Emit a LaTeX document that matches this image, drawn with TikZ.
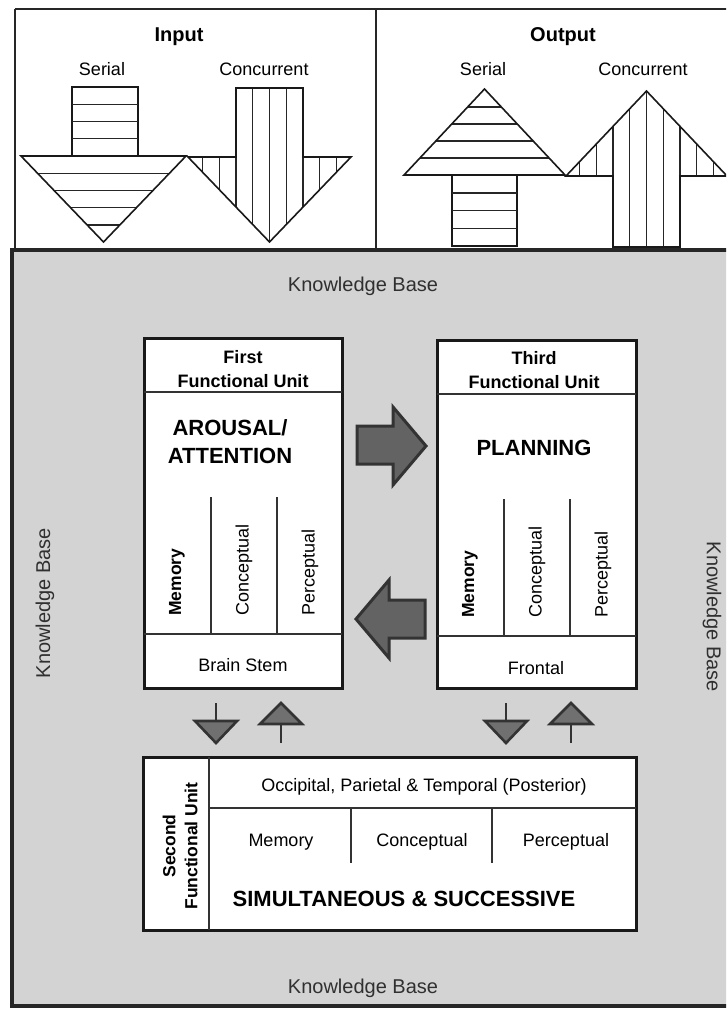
\documentclass[tikz,border=0pt]{standalone}
\usepackage{fontspec}
\setmainfont{Liberation Sans}
\usepackage{tikz}
\usetikzlibrary{positioning}

\definecolor{kbgray}{HTML}{D3D3D3}
\definecolor{kbtext}{HTML}{303030}
\definecolor{bigfill}{HTML}{636363}
\definecolor{bigline}{HTML}{333333}
\definecolor{smallfill}{HTML}{707070}

\tikzset{
  frameline/.style={draw=black!85, line width=2pt},
  unitbox/.style={draw=black!90, line width=3pt, fill=white},
  divider/.style={draw=black!80, line width=2pt},
  hatchbox/.style={draw=black!90, line width=1.6pt, line join=miter},
  hatch/.style={draw=black!85, line width=1.3pt},
  bigarrow/.style={fill=bigfill, draw=bigline, line width=3pt, line join=miter},
  smallhead/.style={fill=smallfill, draw=bigline, line width=2.6pt, line join=miter},
  smallstem/.style={draw=bigline, line width=2.6pt},
  txt/.style={inner sep=0pt, anchor=base},
  titlefont/.style={font=\bfseries\fontsize{20}{24}\selectfont},
  labfont/.style={font=\fontsize{18}{22}\selectfont},
  unitfont/.style={font=\bfseries\fontsize{18}{24}\selectfont},
  bigfont/.style={font=\bfseries\fontsize{22}{28}\selectfont},
  kbfont/.style={font=\fontsize{20}{24}\selectfont, text=kbtext, inner sep=0pt}
}

\begin{document}
\begin{tikzpicture}[x=1pt,y=-1pt]
\useasboundingbox (0,0) rectangle (726,1012);
\clip (0,0) rectangle (726,1012);

% top panel
\draw[frameline] (15,9) -- (740,9);
\draw[frameline] (15,9) -- (15,250);
\draw[frameline] (376,9) -- (376,250);

\draw (179,41) node[txt,titlefont] (input) {Input};
\draw (563,41) node[txt,titlefont] (output) {Output};
\draw (102,75) node[txt,labfont] (inserial) {Serial};
\draw (264,75) node[txt,labfont] (inconc) {Concurrent};
\draw (483,75) node[txt,labfont] (outserial) {Serial};
\draw (643,75) node[txt,labfont] (outconc) {Concurrent};

% input, serial
\draw[hatchbox] (72,87) rectangle (138,156);
\foreach \y in {104.25,121.5,138.75}
  \draw[hatch] (72,\y) -- (138,\y);
\begin{scope}
  \clip (21,156) -- (186,156) -- (103.5,242) -- cycle;
  \foreach \y in {173.25,190.5,207.75,225}
    \draw[hatch] (0,\y) -- (380,\y);
\end{scope}
\draw[hatchbox] (21,156) -- (186,156) -- (103.5,242) -- cycle;

% input, concurrent
\begin{scope}
  \clip (236,88) rectangle (303,157) (188,157) -- (351,157) -- (269.5,242) -- cycle;
  \foreach \i in {-3,...,7}
    \draw[hatch] ({236+16.75*\i},80) -- ({236+16.75*\i},250);
\end{scope}
\draw[hatchbox] (236,157) -- (236,88) -- (303,88) -- (303,157) -- (351,157)
  -- (269.5,242) -- (188,157) -- cycle;

% output, serial
\begin{scope}
  \clip (404,175) -- (565,175) -- (484.5,89) -- cycle;
  \foreach \y in {107,124,141,158}
    \draw[hatch] (380,\y) -- (740,\y);
\end{scope}
\draw[hatchbox] (404,175) -- (565,175) -- (484.5,89) -- cycle;
\draw[hatchbox] (452,175) rectangle (517,246);
\foreach \y in {193,210.75,228.5}
  \draw[hatch] (452,\y) -- (517,\y);

% output, concurrent
\begin{scope}
  \clip (613,247) rectangle (680,176) (566,176) -- (646.5,91) -- (727,176) -- cycle;
  \foreach \i in {-3,...,7}
    \draw[hatch] ({613+16.75*\i},80) -- ({613+16.75*\i},250);
\end{scope}
\draw[hatchbox] (613,247) -- (613,176) -- (566,176) -- (646.5,91) -- (727,176)
  -- (680,176) -- (680,247) -- cycle;

% knowledge base
\draw[fill=kbgray, draw=black!85, line width=3.5pt] (12,250) rectangle (745,1006);
\draw (363,291) node[kbfont, anchor=base] (kbtop) {Knowledge Base};
\draw (363,993) node[kbfont, anchor=base] (kbbottom) {Knowledge Base};
\draw (45,603) node[kbfont, rotate=90] (kbleft) {Knowledge Base};
\draw (712,617) node[kbfont, rotate=-90] (kbright) {Knowledge Base};

% first functional unit
\draw[unitbox] (144,338) rectangle (342,688);
\draw[divider] (144,392) -- (342,392);
\draw[divider] (144,634) -- (342,634);
\draw[divider] (211,497) -- (211,634);
\draw[divider] (277,497) -- (277,634);
\draw (243,387) node[txt,unitfont,align=center] (first) {First\\Functional Unit};
\draw (230,463) node[txt,bigfont,align=center] (arousal) {AROUSAL/\\ATTENTION};
\draw (177,616) node[inner sep=0pt,anchor=west,rotate=90,font=\bfseries\fontsize{17.5}{20}\selectfont] (fmem) {Memory};
\draw (244,616) node[inner sep=0pt,anchor=west,rotate=90,labfont] (fcon) {Conceptual};
\draw (310,616) node[inner sep=0pt,anchor=west,rotate=90,labfont] (fper) {Perceptual};
\draw (243,671) node[txt,labfont] (brainstem) {Brain Stem};

% third functional unit
\draw[unitbox] (437,340) rectangle (636,688);
\draw[divider] (437,394) -- (636,394);
\draw[divider] (437,636) -- (636,636);
\draw[divider] (504,499) -- (504,636);
\draw[divider] (570,499) -- (570,636);
\draw (534,388) node[txt,unitfont,align=center] (third) {Third\\Functional Unit};
\draw (534,455) node[txt,bigfont] (planning) {PLANNING};
\draw (470,618) node[inner sep=0pt,anchor=west,rotate=90,font=\bfseries\fontsize{17.5}{20}\selectfont] (tmem) {Memory};
\draw (537,618) node[inner sep=0pt,anchor=west,rotate=90,labfont] (tcon) {Conceptual};
\draw (603,618) node[inner sep=0pt,anchor=west,rotate=90,labfont] (tper) {Perceptual};
\draw (536,674) node[txt,labfont] (frontal) {Frontal};

% arrows between first and third unit
\draw[bigarrow] (357,426) -- (393,426) -- (393,407) -- (426,446) -- (393,485)
  -- (393,464) -- (357,464) -- cycle;
\draw[bigarrow] (425,600) -- (389,600) -- (389,580) -- (356,619) -- (389,658)
  -- (389,638) -- (425,638) -- cycle;

% arrows to and from second unit
\foreach \x in {216,506}{
  \draw[smallstem] (\x,703) -- (\x,721);
  \draw[smallhead] (\x-21,721) -- (\x+21,721) -- (\x,743) -- cycle;
}
\foreach \x in {281,571}{
  \draw[smallstem] (\x,743) -- (\x,724);
  \draw[smallhead] (\x-21,724) -- (\x+21,724) -- (\x,703) -- cycle;
}

% second functional unit
\draw[unitbox] (143,757) rectangle (636,930);
\draw[divider] (209,757) -- (209,930);
\draw[divider] (209,808) -- (636,808);
\draw[divider] (351,808) -- (351,863);
\draw[divider] (492,808) -- (492,863);
\draw (180,846) node[inner sep=0pt,rotate=90,align=center,font=\bfseries\fontsize{17.5}{22}\selectfont] (second) {Second\\Functional Unit};
\draw (424,791) node[txt,labfont] (posterior) {Occipital, Parietal \& Temporal (Posterior)};
\draw (281,846) node[txt,labfont] (smem) {Memory};
\draw (422,846) node[txt,labfont] (scon) {Conceptual};
\draw (566,846) node[txt,labfont] (sper) {Perceptual};
\draw (404,906) node[txt,bigfont] (simsuc) {SIMULTANEOUS \& SUCCESSIVE};

\end{tikzpicture}
\end{document}
